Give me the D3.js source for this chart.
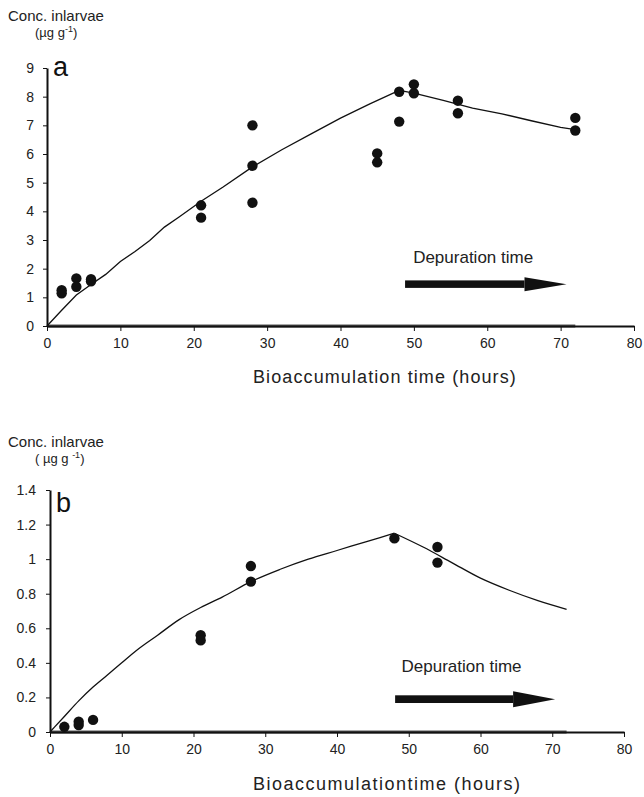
<!DOCTYPE html>
<html>
<head>
<meta charset="utf-8">
<script src="https://cdnjs.cloudflare.com/ajax/libs/d3/7.8.5/d3.min.js"></script>
<style>
  body { margin: 0; background: #fff; }
  svg { font-family: "Liberation Sans", Arial, sans-serif; }
</style>
</head>
<body>
<svg id="chart" width="644" height="797"></svg>
<script>
// tick labels
const xTicks = [0, 10, 20, 30, 40, 50, 60, 70, 80];
const yTicksA = [0, 1, 2, 3, 4, 5, 6, 7, 8, 9];
const yTicksB = [0, 0.2, 0.4, 0.6, 0.8, 1, 1.2, 1.4];

// panel a - measured points
const aObsTime = [2, 2, 4, 4, 6, 6, 21, 21, 28, 28, 28, 45, 45, 48, 48, 50, 50, 56, 56, 72, 72];
const aObsConc = [1.25, 1.14, 1.66, 1.37, 1.63, 1.56, 4.21, 3.78, 7.0, 5.59, 4.3, 6.02, 5.71, 8.17, 7.13, 8.43, 8.12, 7.86, 7.42, 7.26, 6.82];
// panel a - model curve
const aFitTime = [0, 2, 4, 6, 8, 10, 12, 14, 16, 18, 21, 24, 28, 32, 36, 40, 44, 48, 50, 54, 58, 62, 66, 70, 72];
const aFitConc = [0, 0.55, 1.08, 1.45, 1.8, 2.25, 2.6, 2.98, 3.45, 3.8, 4.35, 4.85, 5.55, 6.15, 6.7, 7.25, 7.75, 8.22, 8.12, 7.87, 7.6, 7.4, 7.16, 6.93, 6.85];

// panel b - measured points
const bObsTime = [2, 4, 4, 6, 21, 21, 28, 28, 48, 54, 54];
const bObsConc = [0.03, 0.06, 0.04, 0.07, 0.56, 0.53, 0.96, 0.87, 1.12, 1.07, 0.98];
// panel b - model curve
const bFitTime = [0, 2, 4, 6, 8, 10, 12, 15, 18, 21, 24, 28, 32, 36, 40, 44, 48, 52, 56, 60, 64, 68, 72];
const bFitConc = [0, 0.09, 0.18, 0.26, 0.33, 0.40, 0.47, 0.56, 0.65, 0.72, 0.78, 0.87, 0.94, 1.0, 1.05, 1.10, 1.15, 1.07, 0.98, 0.89, 0.82, 0.76, 0.71];

// depuration arrows [x start, x end, y] in data units
const aArrow = [48.8, 70.8, 1.46];
const bArrow = [48.1, 70.4, 0.19];

const svg = d3.select("#chart");

const drawPanel = (p) => {
  const x = d3.scaleLinear().domain([0, 80]).range([p.left, p.right]);
  const y = d3.scaleLinear().domain([0, p.yMax]).range([p.bottom, p.top]);
  const g = svg.append("g");

  // y axis title
  g.append("text").attr("x", 8).attr("y", p.titleY)
    .style("font-size", "15px").attr("fill", "#222").text("Conc. inlarvae");
  const unit = g.append("text").attr("x", 35).attr("y", p.titleY + 16)
    .style("font-size", "13px").attr("fill", "#222");
  unit.append("tspan").text(p.unitText);
  unit.append("tspan").attr("dy", -5).style("font-size", "9px").text("-1");
  unit.append("tspan").attr("dy", 5).text(")");

  // grey line along the baseline up to 72 h
  g.append("line")
    .attr("x1", x(0)).attr("x2", x(72)).attr("y1", y(0)).attr("y2", y(0))
    .attr("stroke", "#555").attr("stroke-width", 3);

  // axes
  const xAxis = g.append("g").attr("transform", `translate(0,${y(0)})`)
    .call(d3.axisBottom(x).tickValues(xTicks).tickSize(5).tickSizeOuter(0).tickPadding(7));
  const yAxis = g.append("g").attr("transform", `translate(${x(0)},0)`)
    .call(d3.axisLeft(y).tickValues(p.yTicks).tickSize(4).tickSizeOuter(0).tickPadding(p.yPad)
      .tickFormat(d => String(d)));
  [xAxis, yAxis].forEach(a => {
    a.select(".domain").attr("stroke", "#111").attr("stroke-width", 2);
    a.selectAll(".tick line").attr("stroke", "#111");
    a.selectAll("text").style("font-size", "14px").attr("fill", "#222")
      .style("font-family", "'Liberation Sans', Arial, sans-serif");
  });

  // panel letter
  g.append("text").attr("x", x(0) + 6).attr("y", p.letterY)
    .style("font-size", "27px").attr("fill", "#111").text(p.letter);

  // model curve: uptake and depuration parts drawn separately so the peak stays sharp
  const pts = p.fitT.map((t, i) => [t, p.fitC[i]]);
  const peak = d3.maxIndex(p.fitC);
  const line = d3.line().x(d => x(d[0])).y(d => y(d[1])).curve(p.curve);
  g.selectAll("path.fit").data([pts.slice(0, peak + 1), pts.slice(peak)]).join("path")
    .attr("class", "fit").attr("d", line)
    .attr("fill", "none").attr("stroke", "#111").attr("stroke-width", 1.3);

  // observations
  g.selectAll("circle").data(p.obsC).join("circle")
    .attr("cx", (d, i) => x(p.obsT[i])).attr("cy", d => y(d))
    .attr("r", 5.2).attr("fill", "#111");

  // depuration arrow
  const [a0, a1, ay] = p.arrow;
  const cy = y(ay), hl = 42;
  g.append("rect").attr("x", x(a0)).attr("y", cy - p.shaft / 2)
    .attr("width", x(a1) - hl - x(a0)).attr("height", p.shaft).attr("fill", "#111");
  g.append("path")
    .attr("d", `M${x(a1) - hl},${cy - p.head / 2}L${x(a1)},${cy}L${x(a1) - hl},${cy + p.head / 2}Z`)
    .attr("fill", "#111");
  g.append("text").attr("x", x(p.depX)).attr("y", y(p.depY))
    .style("font-size", "17px").attr("fill", "#222").text("Depuration time");

  // x axis title
  g.append("text").attr("x", 253).attr("y", p.xTitleY)
    .style("font-size", "18px").style("letter-spacing", p.spacing).attr("fill", "#222")
    .text(p.xTitle);
};

drawPanel({
  left: 47, right: 634, top: 68, bottom: 326, yMax: 9, yTicks: yTicksA, yPad: 9,
  titleY: 21, unitText: "(µg  g", letter: "a", letterY: 76,
  fitT: aFitTime, fitC: aFitConc, obsT: aObsTime, obsC: aObsConc, curve: d3.curveLinear,
  arrow: aArrow, shaft: 7.5, head: 14, depX: 49.9, depY: 2.2,
  xTitle: "Bioaccumulation time (hours)", xTitleY: 383, spacing: "1.1px"
});

drawPanel({
  left: 50, right: 624, top: 490, bottom: 732, yMax: 1.4, yTicks: yTicksB, yPad: 10,
  titleY: 447, unitText: "( µg g ", letter: "b", letterY: 512,
  fitT: bFitTime, fitC: bFitConc, obsT: bObsTime, obsC: bObsConc, curve: d3.curveMonotoneX,
  arrow: bArrow, shaft: 7.7, head: 16, depX: 49.0, depY: 0.35,
  xTitle: "Bioaccumulationtime (hours)", xTitleY: 790, spacing: "1.5px"
});
</script>
</body>
</html>
